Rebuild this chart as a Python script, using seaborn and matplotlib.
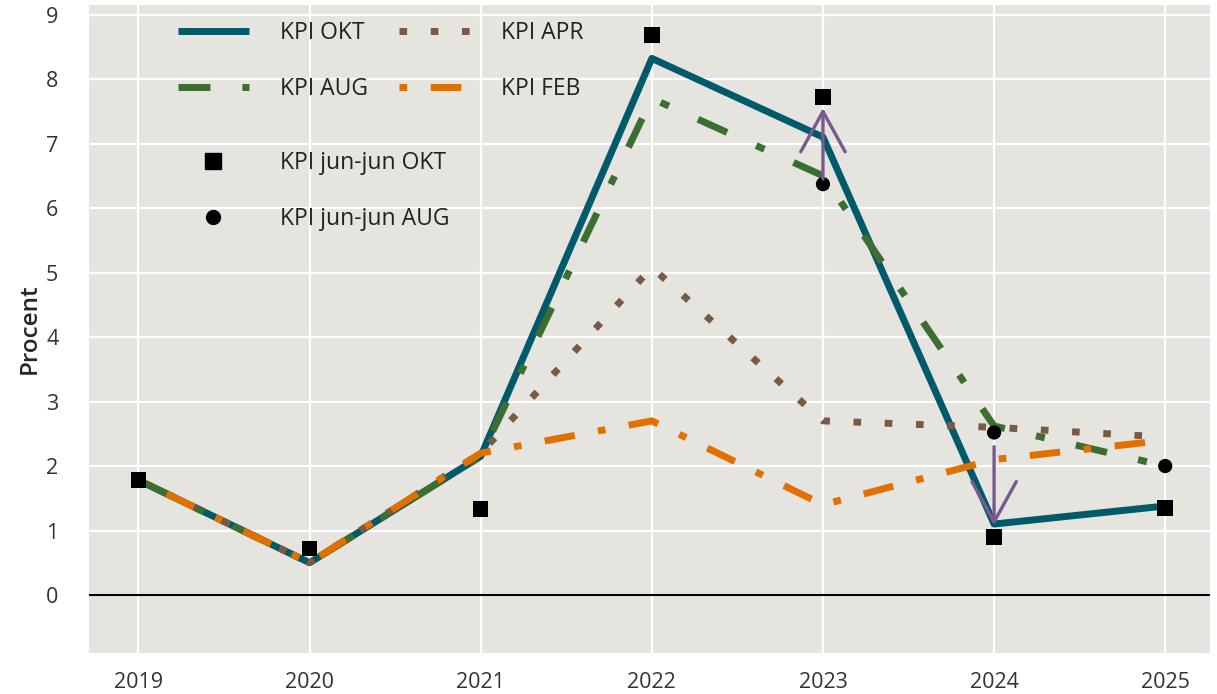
import numpy as np
import pandas as pd
import matplotlib
matplotlib.use('Agg')
import matplotlib.pyplot as plt
from matplotlib.lines import Line2D
import seaborn as sns

#  Data
years = [2019, 2020, 2021, 2022, 2023, 2024, 2025]
kpi_okt = [1.78, 0.50, 2.15, 8.32, 7.10, 1.10, 1.38]
kpi_aug = [1.78, 0.50, 2.15, 7.70, 6.50, 2.62, 2.00]
kpi_apr = [1.78, 0.50, 2.20, 5.08, 2.70, 2.60, 2.45]
kpi_feb = [1.78, 0.50, 2.20, 2.70, 1.40, 2.10, 2.40]
junjun_okt = [1.78, 0.72, 1.33, 8.68, 7.72, 0.90, 1.35]
junjun_aug_years = [2023, 2024, 2025]
junjun_aug = [6.37, 2.52, 2.00]
# revision arrows (from -> to)
arrow_years = [2023, 2024]
arrow_from = [6.45, 2.30]
arrow_to = [7.55, 1.08]

#  Setup
sns.set_theme(style='white')
plt.rcParams['font.family'] = ['Open Sans', 'DejaVu Sans']
plt.rcParams['text.color'] = '#222222'

C_OKT = '#005a6a'
C_AUG = '#3b6e30'
C_APR = '#7b5a45'
C_FEB = '#e07000'
C_ARR = '#7a5a8e'
LW = 5.0

fig = plt.figure(figsize=(12.17, 6.94), dpi=100)
ax = fig.add_axes([0.073, 0.059, 0.921, 0.934])
ax.set_facecolor('#e5e4de')
for s in ax.spines.values():
    s.set_visible(False)

styles = {
    'OKT': dict(color=C_OKT, linestyle='-'),
    'APR': dict(color=C_APR, linestyle=(0, (1.1, 3.4))),
    'AUG': dict(color=C_AUG, linestyle=(0, (4.6, 4.6, 1.3, 4.6))),
    'FEB': dict(color=C_FEB, linestyle=(0, (1.1, 3.4, 4.4, 3.4))),
}
series = {'OKT': kpi_okt, 'APR': kpi_apr, 'AUG': kpi_aug, 'FEB': kpi_feb}
for i, (name, vals) in enumerate(series.items()):
    sns.lineplot(x=years, y=vals, ax=ax, lw=LW, solid_capstyle='butt',
                 dash_capstyle='butt', zorder=3 + i, **styles[name])

ax.axhline(0, color='black', lw=1.5, zorder=2)

sns.scatterplot(x=years, y=junjun_okt, ax=ax, marker='s', s=125, color='black',
                edgecolor='none', zorder=10)
sns.scatterplot(x=junjun_aug_years, y=junjun_aug, ax=ax, marker='o', s=105,
                color='black', edgecolor='none', zorder=10)

for x, y0, y1 in zip(arrow_years, arrow_from, arrow_to):
    ax.annotate('', xy=(x, y1), xytext=(x, y0), zorder=11,
                arrowprops=dict(arrowstyle='->,head_length=1.45,head_width=0.8',
                                mutation_scale=20, color=C_ARR, lw=2.4,
                                shrinkA=0, shrinkB=0))

ax.set_xlim(2018.71, 2025.26)
ax.set_ylim(-0.9, 9.15)
ax.set_xticks(years)
ax.set_yticks(range(0, 10))
ax.grid(True, color='white', lw=1.6, zorder=0)
ax.set_axisbelow(True)
ax.tick_params(length=0, labelsize=15.5, colors='#333333')
ax.tick_params(axis='x', pad=14)
ax.tick_params(axis='y', pad=22)
ax.set_ylabel('Procent', fontsize=17.5, fontweight='semibold', labelpad=3)

#  Legends
line_handles = [Line2D([], [], lw=LW, solid_capstyle='butt', dash_capstyle='butt',
                       **styles[k]) for k in ['OKT', 'AUG', 'APR', 'FEB']]
leg1 = ax.legend(line_handles, ['KPI OKT', 'KPI AUG', 'KPI APR', 'KPI FEB'],
                 ncol=2, loc='upper left', bbox_to_anchor=(0.065, 1.0),
                 frameon=False, fontsize=16.5, handlelength=3.1,
                 handletextpad=1.35, columnspacing=1.35, labelspacing=1.4,
                 borderaxespad=0.3)
ax.add_artist(leg1)
mk_handles = [Line2D([], [], ls='none', marker='s', ms=11, color='black'),
              Line2D([], [], ls='none', marker='o', ms=10, color='black')]
ax.legend(mk_handles, ['KPI jun-jun OKT', 'KPI jun-jun AUG'],
          loc='upper left', bbox_to_anchor=(0.065, 0.80),
          frameon=False, fontsize=16.5, handlelength=3.1,
          handletextpad=1.35, labelspacing=1.4, borderaxespad=0.3)

plt.savefig('out.png', dpi=100)
